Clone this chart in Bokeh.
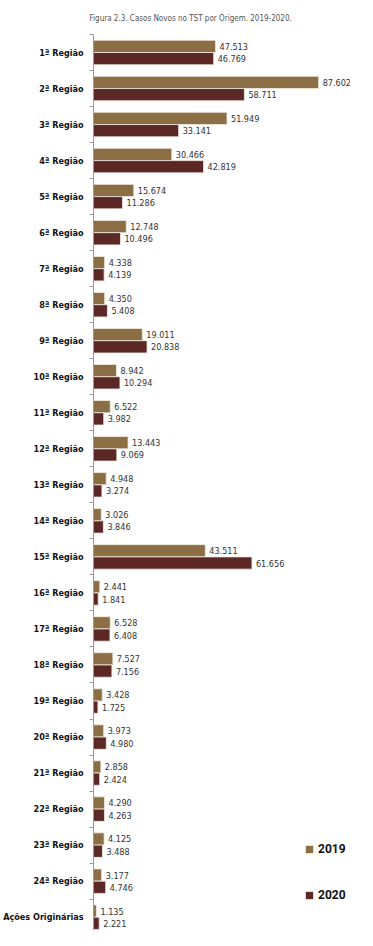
import numpy as np
from bokeh.plotting import figure
from bokeh.models import (ColumnDataSource, Range1d, FixedTicker, LabelSet,
                          Legend, LegendItem, Title)
from bokeh.core.properties import value
from bokeh.embed import file_html
from bokeh.resources import INLINE

categories = ["1ª Região", "2ª Região", "3ª Região", "4ª Região", "5ª Região",
              "6ª Região", "7ª Região", "8ª Região", "9ª Região", "10ª Região",
              "11ª Região", "12ª Região", "13ª Região", "14ª Região", "15ª Região",
              "16ª Região", "17ª Região", "18ª Região", "19ª Região", "20ª Região",
              "21ª Região", "22ª Região", "23ª Região", "24ª Região", "Ações Originárias"]
v2019 = [47513, 87602, 51949, 30466, 15674, 12748, 4338, 4350, 19011, 8942,
         6522, 13443, 4948, 3026, 43511, 2441, 6528, 7527, 3428, 3973,
         2858, 4290, 4125, 3177, 1135]
v2020 = [46769, 58711, 33141, 42819, 11286, 10496, 4139, 5408, 20838, 10294,
         3982, 9069, 3274, 3846, 61656, 1841, 6408, 7156, 1725, 4980,
         2424, 4263, 3488, 4746, 2221]
years = ["2019", "2020"]
colors = ["#8C6E45", "#5B2825"]

FONT = "DejaVu Sans Condensed"
n = len(categories)
pos = np.arange(n) + 0.5
bh = 0.34

def fmt(v):
    return f"{v:,}".replace(",", ".")

src19 = ColumnDataSource(dict(y=pos - bh / 2, v=v2019, lab=[fmt(v) for v in v2019]))
src20 = ColumnDataSource(dict(y=pos + bh / 2, v=v2020, lab=[fmt(v) for v in v2020]))

p = figure(width=350, height=930, output_backend="svg", toolbar_location=None,
           x_range=Range1d(0, 100000), y_range=Range1d(n - 0.13, 0),
           min_border_left=80, min_border_right=0, min_border_top=0,
           min_border_bottom=0)
p.title = Title(text="Figura 2.3. Casos Novos no TST por Origem. 2019-2020.",
                text_font=FONT, text_font_size="8px", text_font_style="normal",
                text_color="#555555", align="left", offset=-4, standoff=23)

r19 = p.hbar(y="y", right="v", left=0, height=bh, source=src19,
             fill_color=colors[0], line_color="#f4ede4", line_width=0.8)
r20 = p.hbar(y="y", right="v", left=0, height=bh, source=src20,
             fill_color=colors[1], line_color="#f4ede4", line_width=0.8)

for s in (src19, src20):
    lab = LabelSet(x="v", y="y", text="lab", source=s, x_offset=4, y_offset=0,
                   text_font=value(FONT), text_font_size=value("9px"),
                   text_color=value("#333333"),
                   text_baseline=value("middle"), text_align=value("left"))
    p.add_layout(lab)

p.xaxis.visible = False
p.xgrid.visible = False
p.ygrid.visible = False
p.outline_line_color = None

ya = p.yaxis[0]
ya.ticker = FixedTicker(ticks=list(pos), minor_ticks=list(np.arange(n + 1)))
ya.major_label_overrides = {float(y): c for y, c in zip(pos, categories)}
ya.major_tick_out = 0
ya.major_tick_in = 0
ya.minor_tick_out = 4
ya.minor_tick_in = 0
ya.minor_tick_line_color = "#999999"
ya.axis_line_color = "#999999"
ya.axis_line_width = 1
ya.major_label_text_font = FONT
ya.major_label_text_font_style = "bold"
ya.major_label_text_font_size = "9px"
ya.major_label_text_color = "#111111"
ya.major_label_standoff = 6

legend = Legend(items=[LegendItem(label=years[0], renderers=[r19]),
                       LegendItem(label=years[1], renderers=[r20])],
                location=(211, 28), orientation="vertical",
                label_text_font="Roboto", label_text_font_style="bold",
                label_text_font_size="12px", label_text_color="#111111",
                glyph_width=10, glyph_height=10, spacing=32, padding=0,
                margin=0, label_standoff=4, label_width=30,
                background_fill_alpha=0, border_line_color=None)
p.add_layout(legend)

open("out.html", "w").write(file_html(p, INLINE))
